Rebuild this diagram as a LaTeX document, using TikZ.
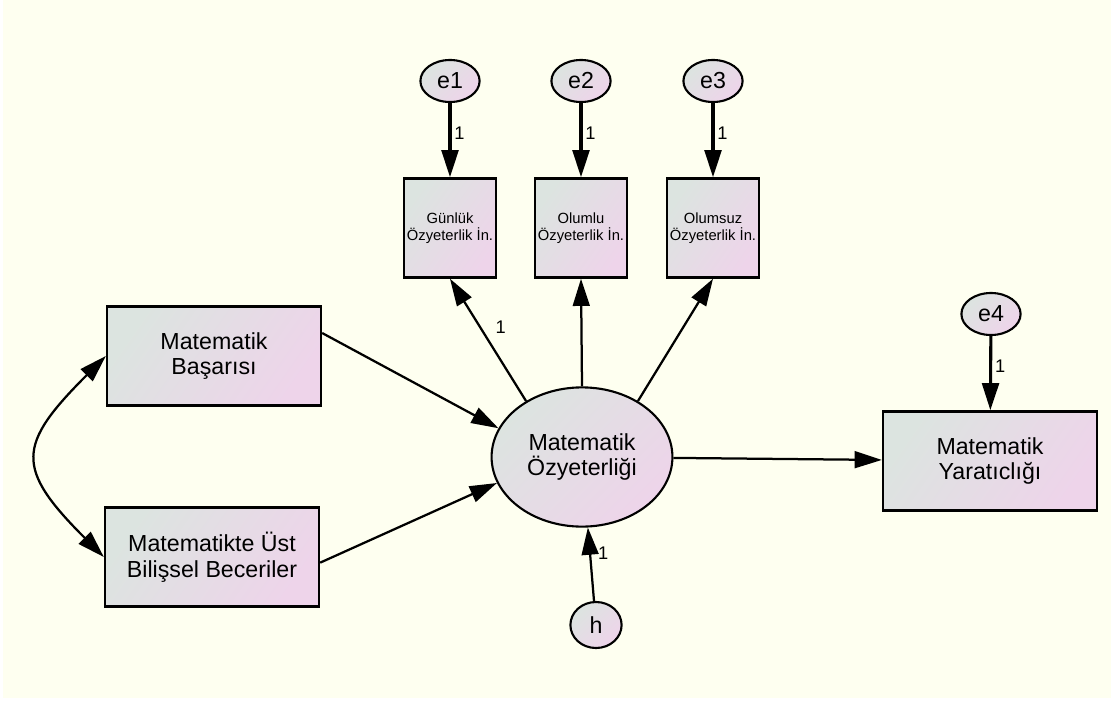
\documentclass[tikz,border=0pt]{standalone}
\usepackage{fontspec}
\setmainfont{Liberation Sans}
\usetikzlibrary{shapes.geometric, arrows.meta}
\definecolor{amosbg}{RGB}{254,255,240}
\definecolor{varteal}{RGB}{220,228,224}
\definecolor{varpink}{RGB}{238,212,234}

\begin{document}
\begin{tikzpicture}[x=0.025cm, y=-0.025cm,
    obs/.style={draw, line width=1.6pt, top color=varteal, bottom color=varpink,
                shading angle=55, minimum width=5.35cm, minimum height=2.48cm,
                inner sep=0pt, align=center, font=\fontsize{16.5}{18.2}\selectfont},
    ind/.style={obs, minimum width=2.3cm, font=\fontsize{10.5}{11.8}\selectfont},
    lat/.style={ellipse, draw, line width=1.5pt, top color=varteal, bottom color=varpink,
                shading angle=45, inner sep=0pt, align=center,
                font=\fontsize{16.5}{18.2}\selectfont},
    err/.style={lat, minimum width=1.48cm, minimum height=1.05cm},
    arr/.style={-{Triangle[length=0.68cm, width=0.42cm]}, line width=1.6pt},
    earr/.style={arr, line width=2.2pt},
    lbl/.style={font=\fontsize{13}{14}\selectfont, inner sep=2pt}
  ]
    %% Background
    \fill[white] (0,0) rectangle (1115,702);
    \fill[amosbg] (3,0) rectangle (1111,698);

    %% Error terms of the indicators
    \node[err] (e1) at (450,81) {e1};
    \node[err] (e2) at (581,81) {e2};
    \node[err] (e3) at (713,81) {e3};

    %% Indicators of self-efficacy
    \node[ind] (i1) at (450,228) {Günlük\\Özyeterlik İn.};
    \node[ind] (i2) at (581,228) {Olumlu\\Özyeterlik İn.};
    \node[ind] (i3) at (713,228) {Olumsuz\\Özyeterlik İn.};

    %% Latent variable and its disturbance
    \node[lat, minimum width=4.52cm, minimum height=3.48cm] (oz) at (582,457)
      {Matematik\\Özyeterliği};
    \node[err, minimum width=1.28cm, minimum height=1.15cm] (h) at (596,625) {h};

    %% Predictors
    \node[obs] (bas) at (214,356) {Matematik\\Başarısı};
    \node[obs] (ust) at (212,557) {Matematikte Üst\\Bilişsel Beceriler};

    %% Outcome
    \node[err] (e4) at (991,314) {e4};
    \node[obs] (yar) at (990,461) {Matematik\\Yaratıclığı};

    %% Arrows
    \draw[earr] (e1) -- (i1) node[lbl, pos=0.4, right] {1};
    \draw[earr] (e2) -- (i2) node[lbl, pos=0.4, right] {1};
    \draw[earr] (e3) -- (i3) node[lbl, pos=0.4, right] {1};
    \draw[earr] (e4) -- (yar) node[lbl, pos=0.4, right] {1};
    \draw[arr] (oz.135) -- (i1.south) node[lbl, pos=0.6, right, xshift=8] {1};
    \draw[arr] (oz.90) -- (i2.south);
    \draw[arr] (oz.45) -- (i3.south);
    \draw[arr] (bas.12) -- (oz.161);
    \draw[arr] (ust.-3) -- (oz.197);
    \draw[arr] (oz) -- (yar);
    \draw[arr] (h) -- (oz) node[lbl, pos=0.65, right, inner sep=1pt, xshift=4] {1};

    %% Covariance
    \draw[{Triangle[length=0.68cm, width=0.42cm]}-{Triangle[length=0.68cm, width=0.42cm]},
      line width=1.6pt] (bas.west) to[out=225, in=135, looseness=1.6] (ust.west);
  \end{tikzpicture}
\end{document}
